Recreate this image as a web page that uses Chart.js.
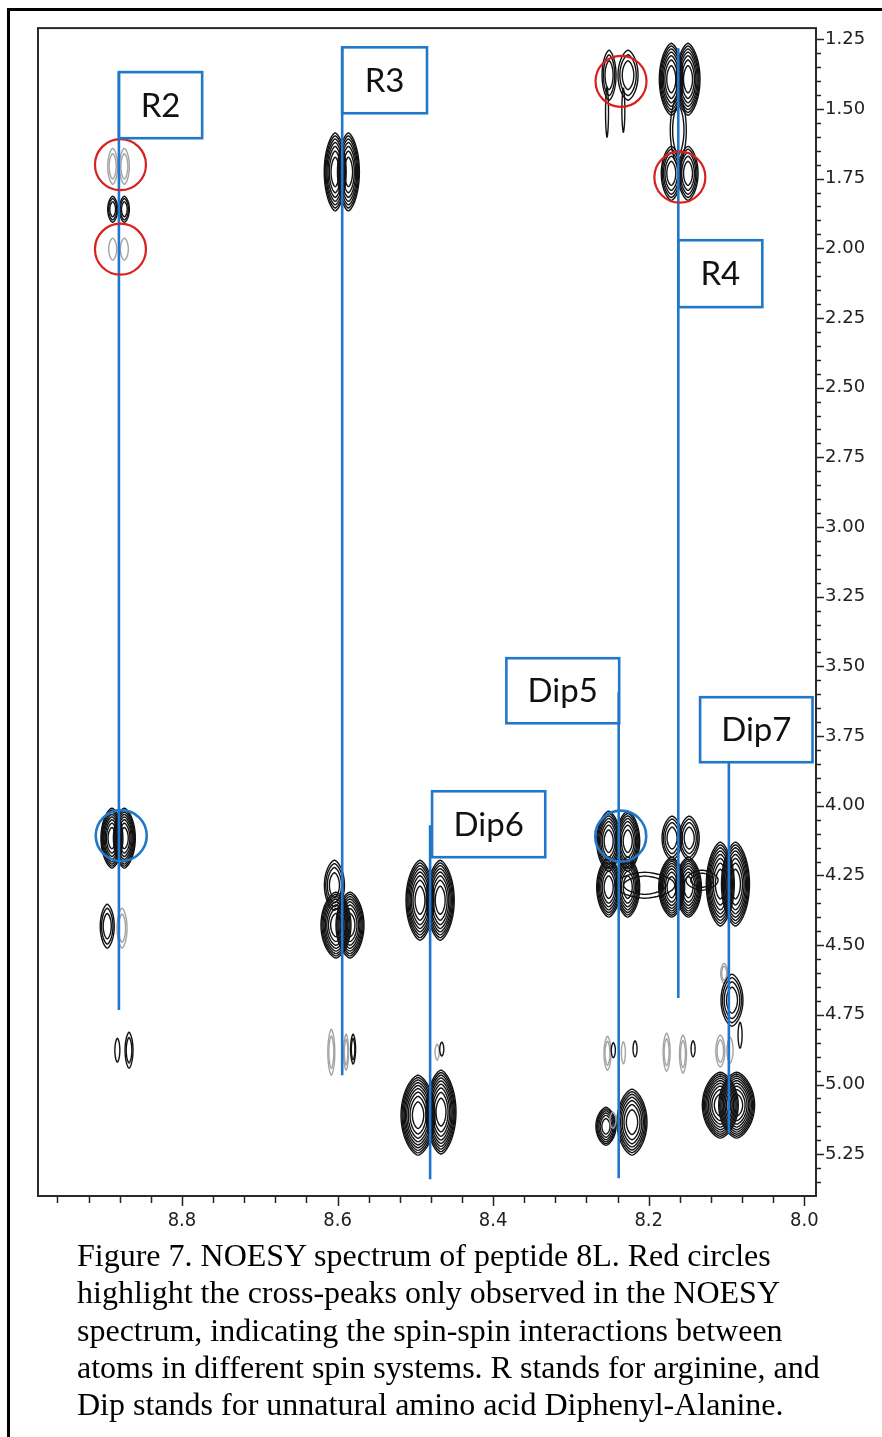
<!DOCTYPE html>
<html>
<head>
<meta charset="utf-8">
<script src="https://cdn.jsdelivr.net/npm/chart.js@4.4.1/dist/chart.umd.min.js"></script>
<style>
  html, body { margin: 0; padding: 0; background: #fff; }
  body { width: 882px; height: 1437px; position: relative; overflow: hidden; }
  #frame { position: absolute; left: 7px; top: 8px; width: 900px; height: 1500px;
           border-left: 3px solid #000; border-top: 3px solid #000; }
  #wrap { position: absolute; left: 0; top: 0; width: 882px; height: 1245px; }
  #caption { position: absolute; left: 77px; top: 1237px; color: #000; white-space: nowrap;
             font-family: "Liberation Serif", "Times New Roman", serif; font-size: 32px; line-height: 37.3px; }
</style>
</head>
<body>
<div id="frame"></div>
<div id="wrap"><canvas id="c" width="882" height="1245"></canvas></div>
<div id="caption">Figure 7. NOESY spectrum of peptide 8L. Red circles<br>highlight the cross-peaks only observed in the NOESY<br>spectrum, indicating the spin-spin interactions between<br>atoms in different spin systems. R stands for arginine, and<br>Dip stands for unnatural amino acid Diphenyl-Alanine.</div>
<script>
// ---- cross-peaks: F2 (horizontal, ppm), F1 (vertical, ppm), half widths (ppm), contour levels, phase ----
const peakF2 = [
  8.889, 8.874, 8.889, 8.874, 8.889, 8.874, 8.890, 8.874, 8.896, 8.877, 8.883, 8.868,
  8.603, 8.586, 8.604, 8.602, 8.584, 8.608, 8.589, 8.580,
  8.494, 8.468, 8.472, 8.466, 8.4965, 8.467,
  8.2515, 8.227, 8.2515, 8.227, 8.1705, 8.149, 8.170, 8.148, 8.108, 8.0885, 8.205, 8.1315,
  8.253, 8.2455, 8.2326, 8.2176, 8.177, 8.156, 8.143, 8.108, 8.0955,
  8.103, 8.093, 8.0826,
  8.108, 8.087, 8.255, 8.2215, 8.246,
  8.251, 8.2266, 8.2536, 8.2326, 8.171, 8.1495, 8.162, 8.171, 8.1495
];
const peakF1 = [
  1.706, 1.706, 1.860, 1.860, 2.003, 2.003, 4.116, 4.116, 4.432, 4.439, 4.877, 4.877,
  1.726, 1.726, 4.285, 4.428, 4.428, 4.884, 4.884, 4.873,
  4.339, 4.339, 4.884, 4.873, 5.110, 5.099,
  4.127, 4.127, 4.292, 4.292, 4.292, 4.292, 4.116, 4.116, 4.281, 4.281, 4.285, 4.267,
  4.888, 4.877, 4.886, 4.872, 4.884, 4.891, 4.872, 4.880, 4.877,
  4.601, 4.6975, 4.823,
  5.074, 5.074, 5.150, 5.135, 5.128,
  1.379, 1.379, 1.512, 1.505, 1.3935, 1.3935, 1.576, 1.731, 1.731
];
const peakHalfF2 = [
  0.0064, 0.0064, 0.0064, 0.0064, 0.0051, 0.0051, 0.0141, 0.0141, 0.0090, 0.0064, 0.0032, 0.0051,
  0.0141, 0.0141, 0.0129, 0.0193, 0.0180, 0.0045, 0.0032, 0.0032,
  0.0180, 0.0180, 0.0026, 0.0026, 0.0219, 0.0193,
  0.0154, 0.0154, 0.0154, 0.0154, 0.0167, 0.0167, 0.0129, 0.0129, 0.0180, 0.0180, 0.0386, 0.0206,
  0.0045, 0.0026, 0.0026, 0.0026, 0.0045, 0.0045, 0.0026, 0.0058, 0.0039,
  0.0045, 0.0141, 0.0026,
  0.0231, 0.0231, 0.0129, 0.0193, 0.0039,
  0.0090, 0.0129, 0.0019, 0.0019, 0.0154, 0.0154, 0.0103, 0.0129, 0.0129
];
const peakHalfF1 = [
  0.0646, 0.0646, 0.0466, 0.0466, 0.0395, 0.0395, 0.1076, 0.1076, 0.0789, 0.0717, 0.0430, 0.0646,
  0.1400, 0.1400, 0.0897, 0.1184, 0.1184, 0.0825, 0.0646, 0.0538,
  0.1435, 0.1435, 0.0287, 0.0250, 0.1435, 0.1507,
  0.1076, 0.1076, 0.1076, 0.1076, 0.1076, 0.1076, 0.0789, 0.0789, 0.1507, 0.1507, 0.0466, 0.0359,
  0.0610, 0.0269, 0.0395, 0.0287, 0.0682, 0.0682, 0.0287, 0.0574, 0.0466,
  0.0359, 0.0933, 0.0466,
  0.1184, 0.1184, 0.0682, 0.1184, 0.0287,
  0.0897, 0.0897, 0.0897, 0.0789, 0.1291, 0.1291, 0.1256, 0.0969, 0.0969
];
const peakLevels = [
  2, 2, 3, 3, 1, 1, 8, 8, 3, 2, 1, 2,
  7, 7, 4, 8, 8, 2, 2, 2,
  8, 8, 1, 1, 9, 9,
  7, 7, 7, 7, 8, 8, 4, 4, 8, 8, 2, 2,
  2, 1, 1, 1, 2, 2, 1, 2, 1,
  2, 4, 1,
  9, 9, 6, 7, 1,
  3, 3, 1, 1, 7, 7, 2, 5, 5
];
// +1 positive phase (black), -1 negative phase (grey)
const peakPhase = [
  -1, -1, 1, 1, -1, -1, 1, 1, 1, -1, 1, 1,
  1, 1, 1, 1, 1, -1, -1, 1,
  1, 1, -1, 1, 1, 1,
  1, 1, 1, 1, 1, 1, 1, 1, 1, 1, 1, 1,
  -1, 1, -1, 1, -1, -1, 1, -1, -1,
  -1, 1, 1,
  1, 1, 1, 1, -1,
  1, 1, 1, 1, 1, 1, 1, 1, 1
];

// ---- spin-system guide lines and their labels ----
const spinLabels = ['R2', 'R3', 'R4', 'Dip5', 'Dip6', 'Dip7'];
const spinF2     = [8.881, 8.594, 8.162, 8.2386, 8.481, 8.097];
const spinFrom   = [1.368, 1.279, 1.282, 3.593, 4.070, 3.844];
const spinTo     = [4.733, 4.967, 4.690, 5.336, 5.340, 5.175];
const labelF2a   = [8.881, 8.594, 8.162, 8.383, 8.4785, 8.134];
const labelF2b   = [8.774, 8.485, 8.054, 8.238, 8.333, 7.9895];
const labelF1a   = [1.368, 1.279, 1.971, 3.4706, 3.948, 3.6105];
const labelF1b   = [1.605, 1.5155, 2.211, 3.704, 4.1845, 3.8437];

// ---- highlighted cross-peaks ----
const noesyOnlyF2 = [8.879, 8.879, 8.2356, 8.160];
const noesyOnlyF1 = [1.700, 2.003, 1.401, 1.745];
const markedF2 = [8.878, 8.236];
const markedF1 = [4.107, 4.109];

// ---- axis ticks ----
const xMajorTicks = [8.8, 8.6, 8.4, 8.2, 8.0];
const yMajorTicks = [1.25, 1.50, 1.75, 2.00, 2.25, 2.50, 2.75, 3.00, 3.25, 3.50, 3.75, 4.00, 4.25, 4.50, 4.75, 5.00, 5.25];
const xMinorStep = 0.04, yMinorStep = 0.05;

const BLUE = '#1f78c9';
const RED = '#d9201f';

const xTickValues = [];
for (let i = 0; i <= 24; i++) xTickValues.push(Math.round((8.96 - i * xMinorStep) * 100) / 100);
const yTickValues = [];
for (let i = 0; i <= 82; i++) yTickValues.push(Math.round((1.25 + i * yMinorStep) * 100) / 100);
const isMajor = (v, list) => list.some(m => Math.abs(m - v) < 1e-6);

const guideSets = spinLabels.map((name, i) => ({
  type: 'line',
  label: name,
  data: [{ x: spinF2[i], y: spinFrom[i] }, { x: spinF2[i], y: spinTo[i] }],
  borderColor: BLUE,
  borderWidth: 2.6,
  pointRadius: 0,
  fill: false
}));

// lemon-shaped contour: slightly pointed at the top and bottom, like a 2D NMR lobe
function lobePath(ctx, cx, cy, rx, ry) {
  ctx.beginPath();
  const steps = 48;
  for (let j = 0; j <= steps; j++) {
    const t = (j / steps) * Math.PI * 2;
    const c = Math.cos(t), s = Math.sin(t);
    const px = cx + rx * Math.sign(c) * Math.pow(Math.abs(c), 1.3);
    const py = cy + ry * s;
    if (j === 0) ctx.moveTo(px, py); else ctx.lineTo(px, py);
  }
  ctx.closePath();
}

const spectrumPlugin = {
  id: 'spectrum',
  beforeDatasetsDraw(chart) {
    const { ctx, chartArea: a, scales: { x, y } } = chart;
    ctx.save();
    ctx.beginPath();
    ctx.rect(a.left, a.top, a.right - a.left, a.bottom - a.top);
    ctx.clip();
    ctx.lineWidth = 1.4;
    ctx.lineJoin = 'round';
    for (let i = 0; i < peakF2.length; i++) {
      const cx = x.getPixelForValue(peakF2[i]);
      const cy = y.getPixelForValue(peakF1[i]);
      const rx = Math.abs(x.getPixelForValue(peakF2[i] + peakHalfF2[i]) - cx);
      const ry = Math.abs(y.getPixelForValue(peakF1[i] + peakHalfF1[i]) - cy);
      const n = peakLevels[i];
      ctx.strokeStyle = peakPhase[i] > 0 ? '#121212' : '#a4a4a4';
      for (let k = 0; k < n; k++) {
        const sc = Math.sqrt((n - k) / n);
        lobePath(ctx, cx, cy, Math.max(rx * sc, 0.8), Math.max(ry * sc, 1));
        ctx.stroke();
      }
    }
    ctx.restore();
  },
  afterDatasetsDraw(chart) {
    const { ctx, scales: { x, y } } = chart;
    ctx.save();
    ctx.strokeStyle = BLUE;
    ctx.lineWidth = 2.6;
    ctx.fillStyle = '#111';
    ctx.font = '33px Lato, "Open Sans", sans-serif';
    ctx.textAlign = 'center';
    ctx.textBaseline = 'middle';
    spinLabels.forEach((name, i) => {
      const x1 = x.getPixelForValue(labelF2a[i]), x2 = x.getPixelForValue(labelF2b[i]);
      const y1 = y.getPixelForValue(labelF1a[i]), y2 = y.getPixelForValue(labelF1b[i]);
      ctx.strokeRect(x1, y1, x2 - x1, y2 - y1);
      ctx.fillText(name, (x1 + x2) / 2, (y1 + y2) / 2 + 1);
    });
    ctx.restore();
  },
  afterDraw(chart) {
    const { ctx, chartArea: a, scales: { x, y } } = chart;
    ctx.save();
    ctx.strokeStyle = '#222';
    ctx.lineWidth = 1.5;
    x.ticks.forEach(t => {
      const px = Math.round(x.getPixelForValue(t.value)) + 0.5;
      const len = isMajor(t.value, xMajorTicks) ? 10 : 7;
      ctx.beginPath(); ctx.moveTo(px, a.bottom); ctx.lineTo(px, a.bottom + len); ctx.stroke();
    });
    y.ticks.forEach(t => {
      const py = Math.round(y.getPixelForValue(t.value)) + 0.5;
      const len = isMajor(t.value, yMajorTicks) ? 8 : 5;
      ctx.beginPath(); ctx.moveTo(a.right, py); ctx.lineTo(a.right + len, py); ctx.stroke();
    });
    ctx.strokeStyle = '#2a2a2a';
    ctx.lineWidth = 2;
    ctx.strokeRect(a.left, a.top, a.right - a.left, a.bottom - a.top);
    ctx.restore();
  }
};

new Chart(document.getElementById('c'), {
  type: 'scatter',
  data: {
    datasets: [
      {
        label: 'NOESY-only cross-peaks',
        data: noesyOnlyF2.map((v, i) => ({ x: v, y: noesyOnlyF1[i] })),
        pointStyle: 'circle',
        pointRadius: 25.5,
        pointHoverRadius: 25.5,
        borderColor: RED,
        borderWidth: 2.2,
        backgroundColor: 'rgba(0,0,0,0)'
      },
      {
        label: 'Marked cross-peaks',
        data: markedF2.map((v, i) => ({ x: v, y: markedF1[i] })),
        pointStyle: 'circle',
        pointRadius: 25.5,
        pointHoverRadius: 25.5,
        borderColor: BLUE,
        borderWidth: 2.6,
        backgroundColor: 'rgba(0,0,0,0)'
      },
      ...guideSets
    ]
  },
  options: {
    responsive: false,
    animation: false,
    devicePixelRatio: 1,
    layout: { padding: { left: 38, top: 28, right: 0, bottom: 0 } },
    plugins: { legend: { display: false }, tooltip: { enabled: false } },
    events: [],
    scales: {
      x: {
        type: 'linear',
        position: 'bottom',
        min: 7.985,
        max: 8.985,
        reverse: true,
        afterBuildTicks: s => { s.ticks = xTickValues.map(v => ({ value: v })); },
        afterFit: s => { s.height = 49; },
        border: { display: false },
        grid: { display: true, drawOnChartArea: false, drawTicks: true, tickLength: 10, tickColor: 'rgba(0,0,0,0)' },
        ticks: {
          autoSkip: false,
          maxRotation: 0,
          padding: 3,
          color: '#222',
          font: { family: '"DejaVu Sans Condensed", "Liberation Sans Narrow", "DejaVu Sans", sans-serif', size: 20 },
          callback: v => isMajor(v, xMajorTicks) ? v.toFixed(1) : ''
        }
      },
      y: {
        type: 'linear',
        position: 'right',
        min: 1.21,
        max: 5.40,
        reverse: true,
        afterBuildTicks: s => { s.ticks = yTickValues.filter(v => v <= 5.40).map(v => ({ value: v })); },
        afterFit: s => { s.width = 66; },
        border: { display: false },
        grid: { display: true, drawOnChartArea: false, drawTicks: true, tickLength: 8, tickColor: 'rgba(0,0,0,0)' },
        ticks: {
          autoSkip: false,
          padding: 1,
          color: '#222',
          font: { family: '"DejaVu Sans", Verdana, sans-serif', size: 18 },
          callback: v => isMajor(v, yMajorTicks) ? v.toFixed(2) : ''
        }
      }
    }
  },
  plugins: [spectrumPlugin]
});
</script>
</body>
</html>
